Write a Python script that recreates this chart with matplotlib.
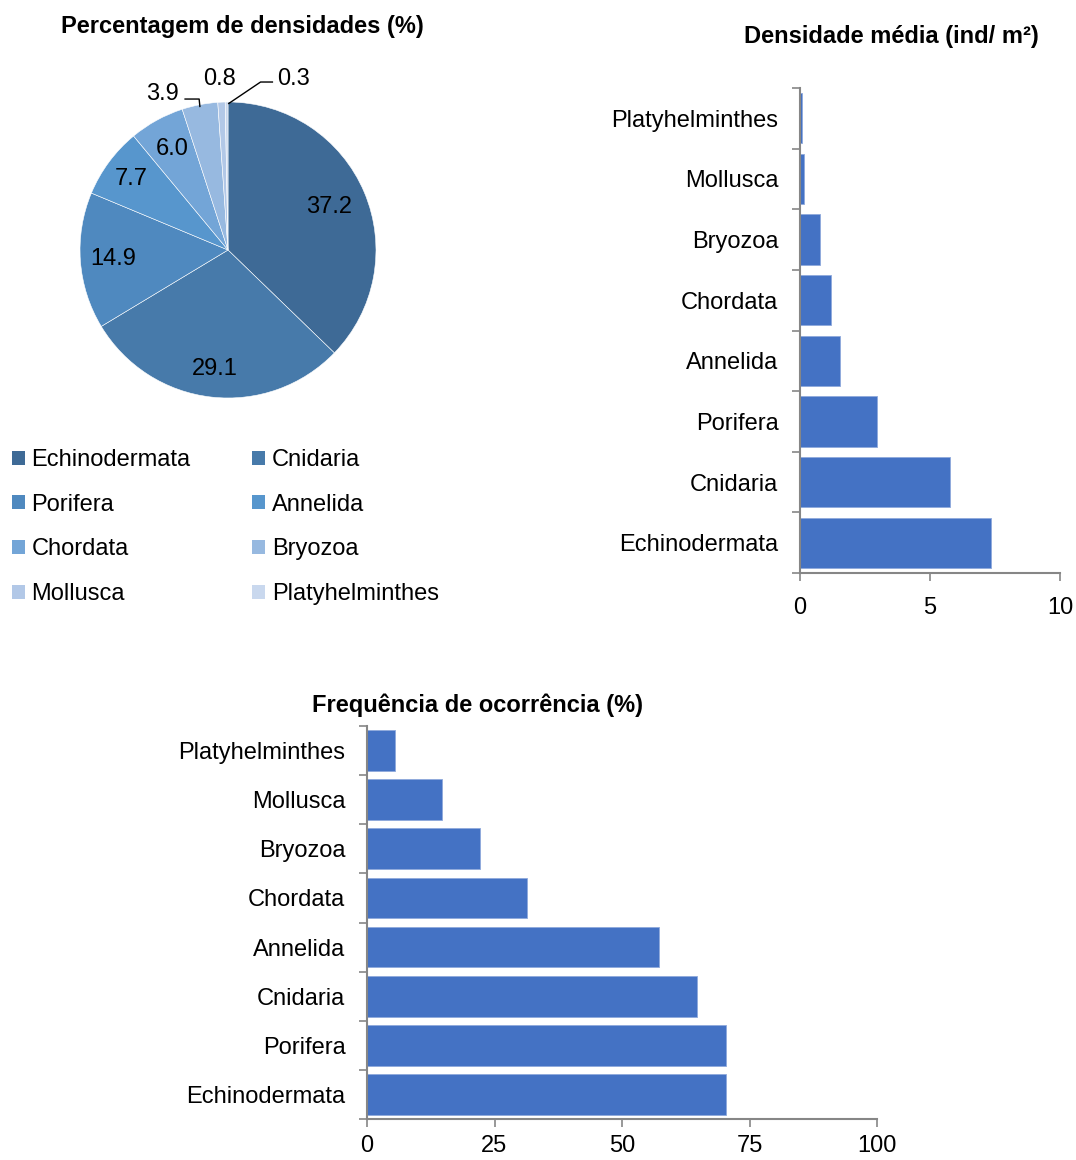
import matplotlib
matplotlib.use("Agg")
import matplotlib.pyplot as plt
import numpy as np
from matplotlib.patches import Patch

plt.rcParams['font.family'] = ['Liberation Sans', 'DejaVu Sans']

# ---- data ----
pie_labels = ["Echinodermata", "Cnidaria", "Porifera", "Annelida",
              "Chordata", "Bryozoa", "Mollusca", "Platyhelminthes"]
pie_values = [37.2, 29.1, 14.9, 7.7, 6.0, 3.9, 0.8, 0.3]
pie_colors = ["#3E6A96", "#477AAA", "#4F89BF", "#5796CD",
              "#73A5D7", "#97B9E0", "#B2C8E7", "#C9D8EE"]

dens_cats = ["Echinodermata", "Cnidaria", "Porifera", "Annelida",
             "Chordata", "Bryozoa", "Mollusca", "Platyhelminthes"]
dens_vals = [7.35, 5.77, 2.96, 1.52, 1.19, 0.77, 0.16, 0.06]
dens_ticks = [0, 5, 10]

freq_cats = ["Echinodermata", "Porifera", "Cnidaria", "Annelida",
             "Chordata", "Bryozoa", "Mollusca", "Platyhelminthes"]
freq_vals = [70.4, 70.4, 64.7, 57.3, 31.4, 22.2, 14.7, 5.5]
freq_ticks = [0, 25, 50, 75, 100]

BAR = "#4472C4"
AX = "#868686"
FS = 17
TFS = 17

W, H = 1076, 1160
fig = plt.figure(figsize=(W / 100, H / 100), dpi=100)


def px_axes(left, top, right, bottom):
    return fig.add_axes([left / W, (H - bottom) / H, (right - left) / W, (bottom - top) / H])


# ---- pie ----
cx, cy, r = 228, 250, 148
axp = px_axes(cx - r, cy - r, cx + r, cy + r)
wedges, _ = axp.pie(pie_values, startangle=90, counterclock=False, colors=pie_colors,
                    wedgeprops=dict(edgecolor="white", linewidth=0.4))
axp.set_xlim(-1, 1)
axp.set_ylim(-1, 1)
axp.set_aspect("equal")
axp.axis("off")
radii = [0.74, 0.81, 0.78, 0.81, 0.78]
for i, w in enumerate(wedges[:5]):
    ang = np.deg2rad((w.theta1 + w.theta2) / 2)
    rr = radii[i]
    axp.text(rr * np.cos(ang), rr * np.sin(ang), f"{pie_values[i]:.1f}",
             ha="center", va="center", fontsize=FS)
# outside labels
axp.text(-0.44, 1.055, f"{pie_values[5]:.1f}", ha="center", va="center", fontsize=FS)
axp.plot([-0.29, -0.195, -0.19], [1.02, 1.02, 0.97], color="black", lw=1, clip_on=False)
axp.text(-0.06, 1.155, f"{pie_values[6]:.1f}", ha="center", va="center", fontsize=FS)
axp.text(0.44, 1.155, f"{pie_values[7]:.1f}", ha="center", va="center", fontsize=FS)
axp.plot([0.30, 0.22, 0.005], [1.135, 1.135, 0.99], color="black", lw=1, clip_on=False)

fig.text(242 / W, 1 - 27 / H, "Percentagem de densidades (%)", ha="center", va="center",
         fontsize=TFS, fontweight="bold")

# legend (row-major order like reference)
order = [0, 2, 4, 6, 1, 3, 5, 7]
handles = [Patch(facecolor=pie_colors[i], edgecolor="none") for i in order]
labels = [pie_labels[i] for i in order]
fig.legend(handles, labels, ncol=2, loc="upper left",
           bbox_to_anchor=(12 / W, 1 - 449 / H), frameon=False, fontsize=FS,
           handlelength=0.55, handleheight=0.55, handletextpad=0.28,
           columnspacing=2.6, labelspacing=0.96, borderpad=0, borderaxespad=0)


def style_bar_axes(ax, cats, ticks, xpad):
    n = len(cats)
    ax.set_ylim(-0.5, n - 0.5)
    ax.set_xlim(ticks[0], ticks[-1])
    ax.set_yticks(range(n))
    ax.set_yticklabels(cats)
    ax.set_yticks(np.arange(-0.5, n, 1.0), minor=True)
    ax.tick_params(axis="y", which="major", length=0, pad=15.5, labelsize=FS)
    ax.tick_params(axis="y", which="minor", length=6, color=AX, width=1.2)
    ax.set_xticks(ticks)
    ax.tick_params(axis="x", which="major", length=6, color=AX, width=1.2, pad=xpad, labelsize=FS)
    for s in ["top", "right"]:
        ax.spines[s].set_visible(False)
    for s in ["left", "bottom"]:
        ax.spines[s].set_color(AX)
        ax.spines[s].set_linewidth(1.5)


# ---- densidade media ----
axd = px_axes(800, 88, 1060, 573)
axd.barh(range(len(dens_cats)), dens_vals, height=0.83, color=BAR, edgecolor="#8FA9DC", linewidth=0.6)
style_bar_axes(axd, dens_cats, dens_ticks, 11.5)
fig.text(891 / W, 1 - 36 / H, "Densidade média (ind/ m²)", ha="center", va="center",
         fontsize=TFS, fontweight="bold")

# ---- frequencia ----
axf = px_axes(367, 726, 877, 1119)
axf.barh(range(len(freq_cats)), freq_vals, height=0.83, color=BAR, edgecolor="#8FA9DC", linewidth=0.6)
style_bar_axes(axf, freq_cats, freq_ticks, 5.5)
fig.text(478 / W, 1 - 705 / H, "Frequência de ocorrência (%)", ha="center", va="center",
         fontsize=TFS, fontweight="bold")

fig.savefig("out.png", dpi=100, facecolor="white")
